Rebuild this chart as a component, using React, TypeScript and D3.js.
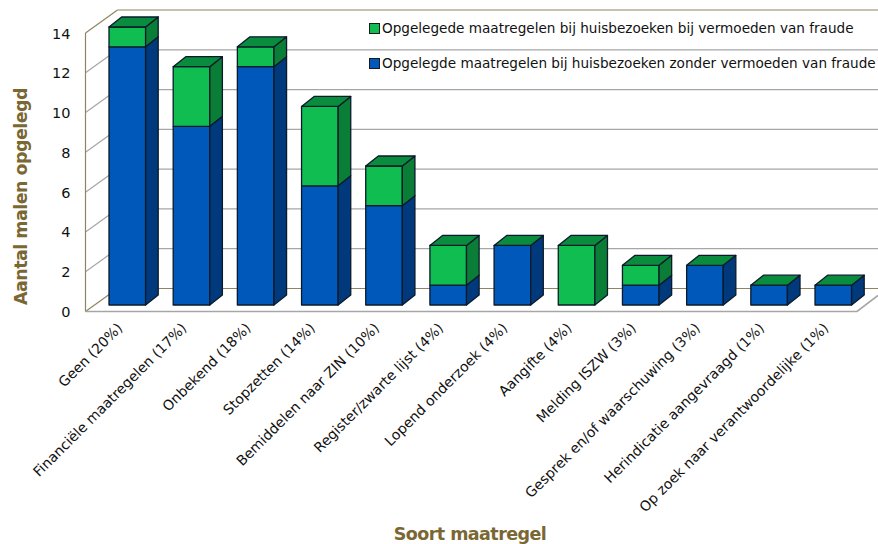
import React from "react";
import * as d3 from "d3";

const categories = [
  "Geen (20%)",
  "Financiële maatregelen (17%)",
  "Onbekend (18%)",
  "Stopzetten (14%)",
  "Bemiddelen naar ZIN (10%)",
  "Register/zwarte lijst (4%)",
  "Lopend onderzoek (4%)",
  "Aangifte (4%)",
  "Melding ISZW (3%)",
  "Gesprek en/of waarschuwing (3%)",
  "Herindicatie aangevraagd (1%)",
  "Op zoek naar verantwoordelijke (1%)",
];
const blueValues = [13, 9, 12, 6, 5, 1, 3, 0, 1, 2, 1, 1];
const greenValues = [1, 3, 1, 4, 2, 2, 0, 3, 1, 0, 0, 0];
const yTicks = [0, 2, 4, 6, 8, 10, 12, 14];
const legendGreen = "Opgelegede maatregelen bij huisbezoeken bij vermoeden van fraude";
const legendBlue = "Opgelegde maatregelen bij huisbezoeken zonder vermoeden van fraude";
const xTitle = "Soort maatregel";
const yTitle = "Aantal malen opgelegd";

const FONT = "'DejaVu Sans', sans-serif";
const BROWN = "#7a6733";
const WALL = "#8f8462";
const GRID = "#a6a6a6";
const C = {
  blue: "#0058bb", blueSide: "#003a7c",
  green: "#10bd50", greenSide: "#0a7d37", top: "#0a8c3e",
};

const barW = 36.6;
const dx = 12.6;
const dy = 10;

// bars stand mid-way into the floor
const yBar = d3.scaleLinear().domain([0, 14]).range([305, 27]);
const xBar = d3.scaleLinear().domain([0, 11]).range([109, 815]);
// front edge and back wall of the plot box
const yFront = d3.scaleLinear().domain([0, 14]).range([311.5, 33]);
const yBack = d3.scaleLinear().domain([0, 14]).range([288.5, 10]);
const X0 = 85.5, X1 = 117.5, XR = 857, XE = 878;

function pts(...p: [number, number][]) {
  return p.map((q) => q.join(",")).join(" ");
}

function Segment({ x, from, to, front, side, stroke = "#0a1a2a" }: any) {
  const y0 = yBar(from), y1 = yBar(to);
  return (
    <g stroke={stroke} strokeWidth={1.3} strokeLinejoin="round">
      <rect x={x} y={y1} width={barW} height={y0 - y1} fill={front} />
      <polygon
        fill={side}
        points={pts([x + barW, y0], [x + barW + dx, y0 - dy], [x + barW + dx, y1 - dy], [x + barW, y1])}
      />
    </g>
  );
}

export default function App() {
  return (
    <svg
      width={878}
      height={544}
      style={{ position: "absolute", left: 0, top: 0, background: "#fff" }}
      fontFamily={FONT}
    >
      {/* walls and grid */}
      {yTicks.map((t) => (
        <g key={t} fill="none" stroke={t === 0 ? WALL : t === 14 ? WALL : GRID} strokeWidth={1.2}>
          <line x1={X1} x2={XE} y1={yBack(t)} y2={yBack(t)} />
          <line x1={X0} x2={X1} y1={yFront(t)} y2={yBack(t)} />
        </g>
      ))}
      <line x1={X0} x2={X0} y1={yFront(14)} y2={yFront(0)} stroke={WALL} strokeWidth={1.2} />
      <polyline
        points={pts([X0, yFront(0)], [XR, yFront(0)], [XE, yFront(0) - 16])}
        fill="none"
        stroke={GRID}
        strokeWidth={1.6}
      />

      {/* y tick labels */}
      {yTicks.map((t) => (
        <text key={t} x={70.5} y={yFront(t) + 5.5} textAnchor="end" fontSize={14.5} fill="#111">
          {t}
        </text>
      ))}

      {/* bars */}
      {categories.map((c, i) => {
        const x = xBar(i);
        const b = blueValues[i];
        const g = greenValues[i];
        const topY = yBar(b + g);
        return (
          <g key={c}>
            {b > 0 && <Segment x={x} from={0} to={b} front={C.blue} side={C.blueSide} />}
            {g > 0 && <Segment x={x} from={b} to={b + g} front={C.green} side={C.greenSide} />}
            <polygon
              fill={C.top}
              stroke="#0a1a2a"
              strokeWidth={1.3}
              strokeLinejoin="round"
              points={pts([x, topY], [x + dx, topY - dy], [x + barW + dx, topY - dy], [x + barW, topY])}
            />
          </g>
        );
      })}

      {/* category labels */}
      {categories.map((c, i) => {
        const x = xBar(i) + barW / 2 - 4;
        return (
          <text
            key={c}
            transform={`translate(${x},329) rotate(-45)`}
            textAnchor="end"
            fontSize={14}
            fill="#111"
          >
            {c}
          </text>
        );
      })}

      {/* legend */}
      <rect x={369.5} y={23.5} width={10} height={10} fill={C.green} stroke="#1a1a1a" />
      <text x={382} y={33} fontSize={13.6} fill="#111">{legendGreen}</text>
      <rect x={369.5} y={58.5} width={10} height={10} fill={C.blue} stroke="#1a1a1a" />
      <text x={382} y={68} fontSize={13.6} fill="#111">{legendBlue}</text>

      {/* axis titles */}
      <text x={470} y={540} textAnchor="middle" fontSize={17.5} letterSpacing={-0.55} fontWeight={700} fill={BROWN}>
        {xTitle}
      </text>
      <text
        transform="translate(27,196.5) rotate(-90)"
        textAnchor="middle"
        fontSize={17.5}
        letterSpacing={-0.55}
        fontWeight={700}
        fill={BROWN}
      >
        {yTitle}
      </text>
    </svg>
  );
}
